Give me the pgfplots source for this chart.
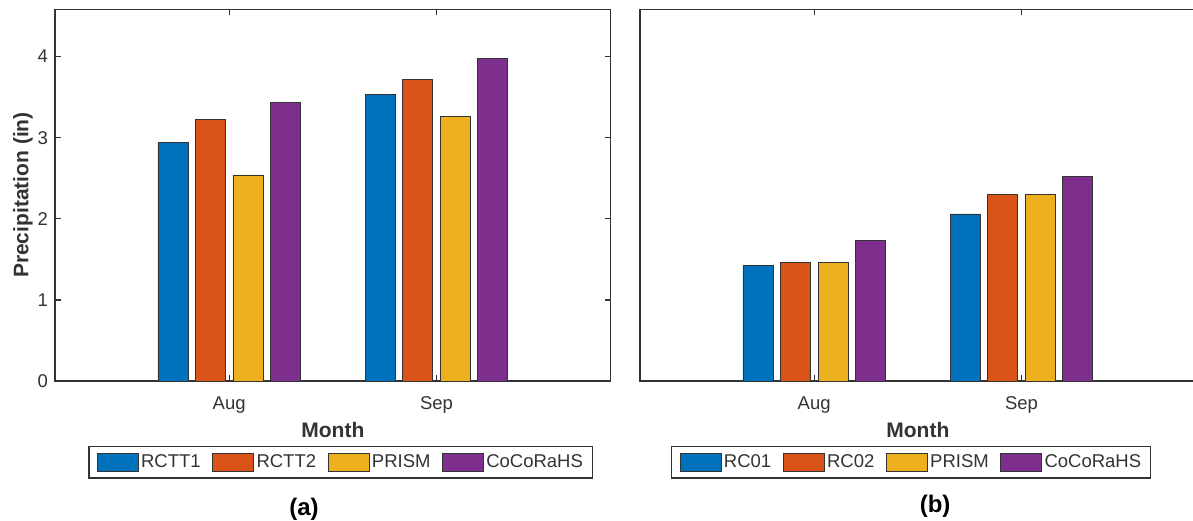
\documentclass[border=0pt]{standalone}
\usepackage{fontspec}
\setmainfont{Liberation Sans}
\usepackage{pgfplots}
\pgfplotsset{compat=1.18}
\definecolor{c1}{HTML}{0072BD}
\definecolor{c2}{HTML}{D95319}
\definecolor{c3}{HTML}{EDB120}
\definecolor{c4}{HTML}{7E2F8E}
\definecolor{ax}{HTML}{333333}
\newcommand{\nf}{\fontsize{18.5}{22}\selectfont}
\newcommand{\bfl}{\fontsize{21}{25}\selectfont\bfseries}
\pgfplotsset{
  mybar/.style={
    scale only axis, width=555.7pt, height=371.7pt,
    ybar=7.5pt, bar width=30pt,
    xmin=0.16, xmax=2.84, ymin=0, ymax=4.583,
    xtick={1,2}, xticklabels={Aug,Sep},
    tick align=inside, major tick length=6pt,
    axis line style={draw=ax, line width=1.3pt},
    every tick/.style={draw=ax, line width=1.3pt},
    tick label style={font=\nf, text=ax},
    /pgf/number format/assume math mode=true,
    yticklabel style={inner sep=0pt, xshift=-7pt},
    xticklabel style={inner sep=0pt, yshift=-15.5pt},
    xlabel={Month},
    xlabel style={at={(axis description cs:0.5,0)}, anchor=north, inner sep=0pt, yshift=-41pt, font=\bfl, text=ax},
    clip=false,
    legend columns=4,
    legend image code/.code={\draw[#1] (0pt,-9pt) rectangle (41pt,9pt);},
    legend style={draw=ax, line width=1.4pt, font=\nf, text=ax, inner xsep=8pt, inner ysep=6.5pt,
      nodes={inner sep=1.5pt},
      /tikz/every odd column/.append style={column sep=1pt},
      /tikz/every even column/.append style={column sep=10pt}},
    every axis plot/.append style={draw=black!80, line width=0.8pt},
  }
}
\begin{document}
\begin{tikzpicture}
\begin{axis}[mybar, at={(0pt,0pt)}, anchor=south west,
  ytick={0,1,2,3,4},
  ylabel={Precipitation (in)},
  ylabel style={at={(axis description cs:0,0.5)}, anchor=center, inner sep=0pt, yshift=32pt, font=\bfl, text=ax},
  legend style={at={(axis description cs:0.514,-0.174)}, anchor=north},
]
\addplot[fill=c1] coordinates {(1,2.94) (2,3.53)};
\addplot[fill=c2] coordinates {(1,3.22) (2,3.72)};
\addplot[fill=c3] coordinates {(1,2.54) (2,3.26)};
\addplot[fill=c4] coordinates {(1,3.43) (2,3.98)};
\legend{RCTT1,RCTT2,PRISM,CoCoRaHS}
\node[font=\fontsize{24}{28}\selectfont\bfseries, text=black] at (axis description cs:0.448,-0.345) {(a)};
\end{axis}
\begin{axis}[mybar, at={(585pt,0pt)}, anchor=south west,
  ytick=\empty,
  legend style={at={(axis description cs:0.488,-0.174)}, anchor=north},
]
\addplot[fill=c1] coordinates {(1,1.42) (2,2.06)};
\addplot[fill=c2] coordinates {(1,1.46) (2,2.30)};
\addplot[fill=c3] coordinates {(1,1.46) (2,2.30)};
\addplot[fill=c4] coordinates {(1,1.73) (2,2.52)};
\legend{RC01,RC02,PRISM,CoCoRaHS}
\node[font=\fontsize{24}{28}\selectfont\bfseries, text=black] at (axis description cs:0.531,-0.338) {(b)};
\end{axis}
\pgfresetboundingbox
\path[use as bounding box] (-55pt,-139pt) rectangle (1138pt,381pt);
\end{tikzpicture}
\end{document}
